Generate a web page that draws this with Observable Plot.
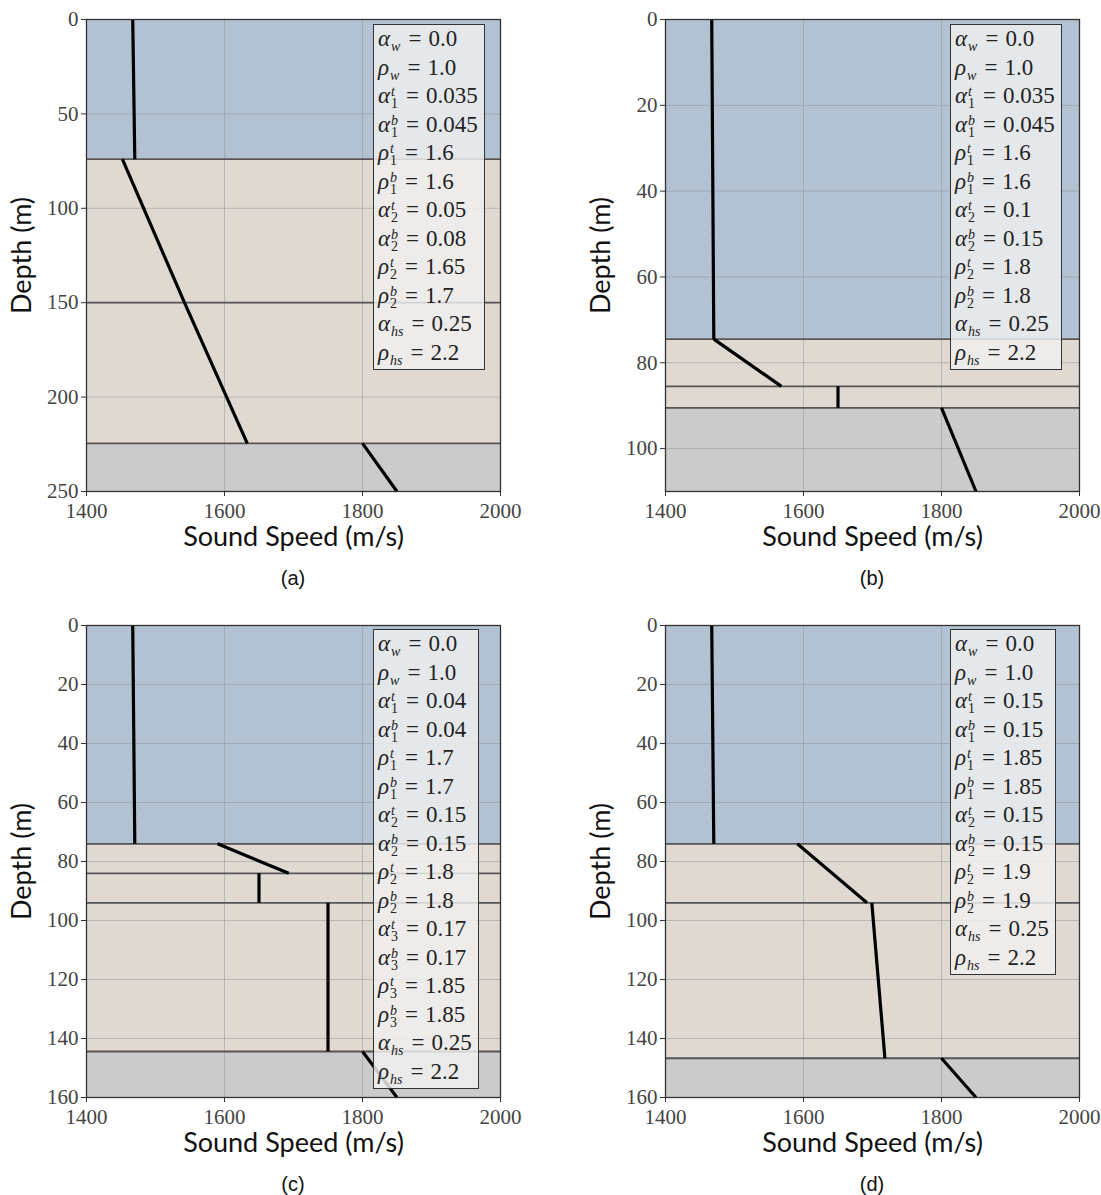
<!DOCTYPE html>
<html>
<head>
<meta charset="utf-8">
<script src="https://cdn.jsdelivr.net/npm/d3@7"></script>
<script src="https://cdn.jsdelivr.net/npm/@observablehq/plot@0.6"></script>
<style>
  html, body { margin: 0; padding: 0; background: #fff; }
  #root { position: relative; width: 1101px; height: 1195px; background: #fff; overflow: hidden; }
  .panel { position: absolute; width: 530px; height: 553px; }
  .panel svg { overflow: visible; max-width: none !important; }
  .legend { position: absolute; background: rgba(240,240,240,0.82); border: 1.3px solid #333;
    padding: 0px 6px 2px 4px; font-family: 'Liberation Serif', serif; font-size: 23px; color: #222; }
  .row { white-space: nowrap; height: 28.5px; line-height: 28.5px; }
  .sym { font-style: italic; }
  .ss { display: inline-block; vertical-align: -5px; font-size: 14px; line-height: 12px; margin-left: 1px; }
  .ss span { display: block; }
  .it { font-style: italic; }
  .eq { margin: 0 7px 0 8px; }
  .caption { position: absolute; font-family: 'Liberation Sans', Arial, sans-serif; font-size: 20px; color: #111; width: 100px; text-align: center; }
</style>
</head>
<body>
<div id="root"></div>
<script>
// ---------- shared ----------
const speedTicks = [1400, 1600, 1800, 2000];
const layerKinds = ["water", "sediment", "halfspace"];
const layerColors = ["#b3c2d3", "#e0d9d1", "#cbcbcb"];

// ---------- panel (a) ----------
const depthTicksA = [0, 50, 100, 150, 200, 250];
const maxDepthA = 250;
const layerTopA = [0, 74, 150, 224.5];
const layerBottomA = [74, 150, 224.5, 250];
const layerKindA = ["water", "sediment", "sediment", "halfspace"];
const interfacesA = [74, 150, 224.5];
const segDepthTopA = [0, 74, 150, 224.5];
const segDepthBottomA = [74, 150, 224.5, 250];
const segSpeedTopA = [1467, 1452, 1542, 1800];
const segSpeedBottomA = [1470, 1542, 1633, 1850];
const legendA = [
  ["α","w","","0.0"],["ρ","w","","1.0"],["α","1","t","0.035"],["α","1","b","0.045"],
  ["ρ","1","t","1.6"],["ρ","1","b","1.6"],["α","2","t","0.05"],["α","2","b","0.08"],
  ["ρ","2","t","1.65"],["ρ","2","b","1.7"],["α","hs","","0.25"],["ρ","hs","","2.2"]];

// ---------- panel (b) ----------
const depthTicksB = [0, 20, 40, 60, 80, 100];
const maxDepthB = 110;
const layerTopB = [0, 74.5, 85.5, 90.5];
const layerBottomB = [74.5, 85.5, 90.5, 110];
const layerKindB = ["water", "sediment", "sediment", "halfspace"];
const interfacesB = [74.5, 85.5, 90.5];
const segDepthTopB = [0, 74.5, 85.5, 90.5];
const segDepthBottomB = [74.5, 85.5, 90.5, 110];
const segSpeedTopB = [1467, 1470, 1650, 1800];
const segSpeedBottomB = [1470, 1568, 1650, 1850];
const legendB = [
  ["α","w","","0.0"],["ρ","w","","1.0"],["α","1","t","0.035"],["α","1","b","0.045"],
  ["ρ","1","t","1.6"],["ρ","1","b","1.6"],["α","2","t","0.1"],["α","2","b","0.15"],
  ["ρ","2","t","1.8"],["ρ","2","b","1.8"],["α","hs","","0.25"],["ρ","hs","","2.2"]];

// ---------- panel (c) ----------
const depthTicksC = [0, 20, 40, 60, 80, 100, 120, 140, 160];
const maxDepthC = 160;
const layerTopC = [0, 74, 84, 94, 144.4];
const layerBottomC = [74, 84, 94, 144.4, 160];
const layerKindC = ["water", "sediment", "sediment", "sediment", "halfspace"];
const interfacesC = [74, 84, 94, 144.4];
const segDepthTopC = [0, 74, 84, 94, 144.4];
const segDepthBottomC = [74, 84, 94, 144.4, 160];
const segSpeedTopC = [1467, 1590, 1650, 1750, 1800];
const segSpeedBottomC = [1470, 1693, 1650, 1750, 1850];
const legendC = [
  ["α","w","","0.0"],["ρ","w","","1.0"],["α","1","t","0.04"],["α","1","b","0.04"],
  ["ρ","1","t","1.7"],["ρ","1","b","1.7"],["α","2","t","0.15"],["α","2","b","0.15"],
  ["ρ","2","t","1.8"],["ρ","2","b","1.8"],["α","3","t","0.17"],["α","3","b","0.17"],
  ["ρ","3","t","1.85"],["ρ","3","b","1.85"],["α","hs","","0.25"],["ρ","hs","","2.2"]];

// ---------- panel (d) ----------
const depthTicksD = [0, 20, 40, 60, 80, 100, 120, 140, 160];
const maxDepthD = 160;
const layerTopD = [0, 74, 94, 146.7];
const layerBottomD = [74, 94, 146.7, 160];
const layerKindD = ["water", "sediment", "sediment", "halfspace"];
const interfacesD = [74, 94, 146.7];
const segDepthTopD = [0, 74, 94, 146.7];
const segDepthBottomD = [74, 94, 146.7, 160];
const segSpeedTopD = [1467, 1591, 1699, 1800];
const segSpeedBottomD = [1470, 1692, 1718, 1850];
const legendD = [
  ["α","w","","0.0"],["ρ","w","","1.0"],["α","1","t","0.15"],["α","1","b","0.15"],
  ["ρ","1","t","1.85"],["ρ","1","b","1.85"],["α","2","t","0.15"],["α","2","b","0.15"],
  ["ρ","2","t","1.9"],["ρ","2","b","1.9"],["α","hs","","0.25"],["ρ","hs","","2.2"]];

const xLabel = "Sound Speed (m/s)";
const yLabel = "Depth (m)";

const labelFont = {fontFamily: "Lato, 'Open Sans', sans-serif", fontSize: 27, fill: "#111"};

function makePlot(p) {
  const layers = p.layerTop.map((t, i) => ({top: t, bottom: p.layerBottom[i], kind: p.layerKind[i]}));
  const segs = p.segDepthTop.map((t, i) => ({d0: t, d1: p.segDepthBottom[i], c0: p.segSpeedTop[i], c1: p.segSpeedBottom[i]}));
  const svg = Plot.plot({
    width: 530, height: 553,
    marginLeft: 86, marginRight: 30, marginTop: 19, marginBottom: 62,
    style: {background: "transparent", overflow: "visible"},
    x: {domain: [speedTicks[0], speedTicks[speedTicks.length - 1]]},
    y: {domain: [0, p.maxDepth], reverse: true},
    color: {domain: layerKinds, range: layerColors},
    marks: [
      Plot.rect(layers, {y1: "top", y2: "bottom", fill: "kind"}),
      Plot.gridX(speedTicks, {stroke: "#8c8c8c", strokeOpacity: 0.45, strokeWidth: 1}),
      Plot.gridY(p.depthTicks, {stroke: "#8c8c8c", strokeOpacity: 0.45, strokeWidth: 1}),
      Plot.ruleY(p.interfaces, {stroke: "#555", strokeWidth: 1.8}),
      Plot.link(segs, {x1: "c0", y1: "d0", x2: "c1", y2: "d1", stroke: "#000", strokeWidth: 3.2}),
      Plot.frame({stroke: "#333", strokeWidth: 1.3}),
      Plot.axisX(speedTicks, {tickSize: 5, tickPadding: 7, label: null, stroke: "#333", fill: "#444", tickFormat: d => String(d)}),
      Plot.axisY(p.depthTicks, {tickSize: 5, tickPadding: 3, label: null, stroke: "#333", fill: "#444", tickFormat: d => String(d)}),
      Plot.text([xLabel], {text: d => d, frameAnchor: "bottom", lineAnchor: "middle", textAnchor: "middle", dy: 46, ...labelFont}),
      Plot.text([yLabel], {text: d => d, frameAnchor: "left", lineAnchor: "middle", textAnchor: "middle", dx: -64, rotate: -90, ...labelFont})
    ]
  });
  // tick labels in a serif face, like the reference
  d3.select(svg).selectAll("text")
    .filter(function () { return /^\d+$/.test(this.textContent.trim()); })
    .style("font-family", "'Liberation Serif', 'DejaVu Serif', serif")
    .style("font-size", "21px")
    .style("fill", "#444");
  return svg;
}

function makeLegend(rows, pos) {
  const div = document.createElement("div");
  div.className = "legend";
  div.style.left = pos.left + "px";
  div.style.top = pos.top + "px";
  for (const [sym, sub, sup, val] of rows) {
    const r = document.createElement("div");
    r.className = "row";
    const subCls = /^[0-9]+$/.test(sub) ? "" : "it";
    r.innerHTML = `<span class="sym">${sym}</span><span class="ss">${sup ? `<span class="it">${sup}</span>` : ""}<span class="${subCls}">${sub}</span></span><span class="eq">=</span>${val}`;
    div.appendChild(r);
  }
  return div;
}

const panels = [
  {left: 0, top: 0, caption: "(a)", legendPos: {left: 373, top: 24},
   depthTicks: depthTicksA, maxDepth: maxDepthA, layerTop: layerTopA, layerBottom: layerBottomA, layerKind: layerKindA,
   interfaces: interfacesA, segDepthTop: segDepthTopA, segDepthBottom: segDepthBottomA, segSpeedTop: segSpeedTopA, segSpeedBottom: segSpeedBottomA, legend: legendA},
  {left: 579, top: 0, caption: "(b)", legendPos: {left: 950, top: 24},
   depthTicks: depthTicksB, maxDepth: maxDepthB, layerTop: layerTopB, layerBottom: layerBottomB, layerKind: layerKindB,
   interfaces: interfacesB, segDepthTop: segDepthTopB, segDepthBottom: segDepthBottomB, segSpeedTop: segSpeedTopB, segSpeedBottom: segSpeedBottomB, legend: legendB},
  {left: 0, top: 606, caption: "(c)", legendPos: {left: 373, top: 629},
   depthTicks: depthTicksC, maxDepth: maxDepthC, layerTop: layerTopC, layerBottom: layerBottomC, layerKind: layerKindC,
   interfaces: interfacesC, segDepthTop: segDepthTopC, segDepthBottom: segDepthBottomC, segSpeedTop: segSpeedTopC, segSpeedBottom: segSpeedBottomC, legend: legendC},
  {left: 579, top: 606, caption: "(d)", legendPos: {left: 950, top: 629},
   depthTicks: depthTicksD, maxDepth: maxDepthD, layerTop: layerTopD, layerBottom: layerBottomD, layerKind: layerKindD,
   interfaces: interfacesD, segDepthTop: segDepthTopD, segDepthBottom: segDepthBottomD, segSpeedTop: segSpeedTopD, segSpeedBottom: segSpeedBottomD, legend: legendD}
];

const root = document.getElementById("root");
for (const p of panels) {
  const wrap = document.createElement("div");
  wrap.className = "panel";
  wrap.style.left = p.left + "px";
  wrap.style.top = p.top + "px";
  wrap.appendChild(makePlot(p));
  root.appendChild(wrap);
  root.appendChild(makeLegend(p.legend, p.legendPos));
  const cap = document.createElement("div");
  cap.className = "caption";
  cap.textContent = p.caption;
  cap.style.left = (p.left + 86 + 207 - 50) + "px";
  cap.style.top = (p.top + 567) + "px";
  root.appendChild(cap);
}
</script>
</body>
</html>
